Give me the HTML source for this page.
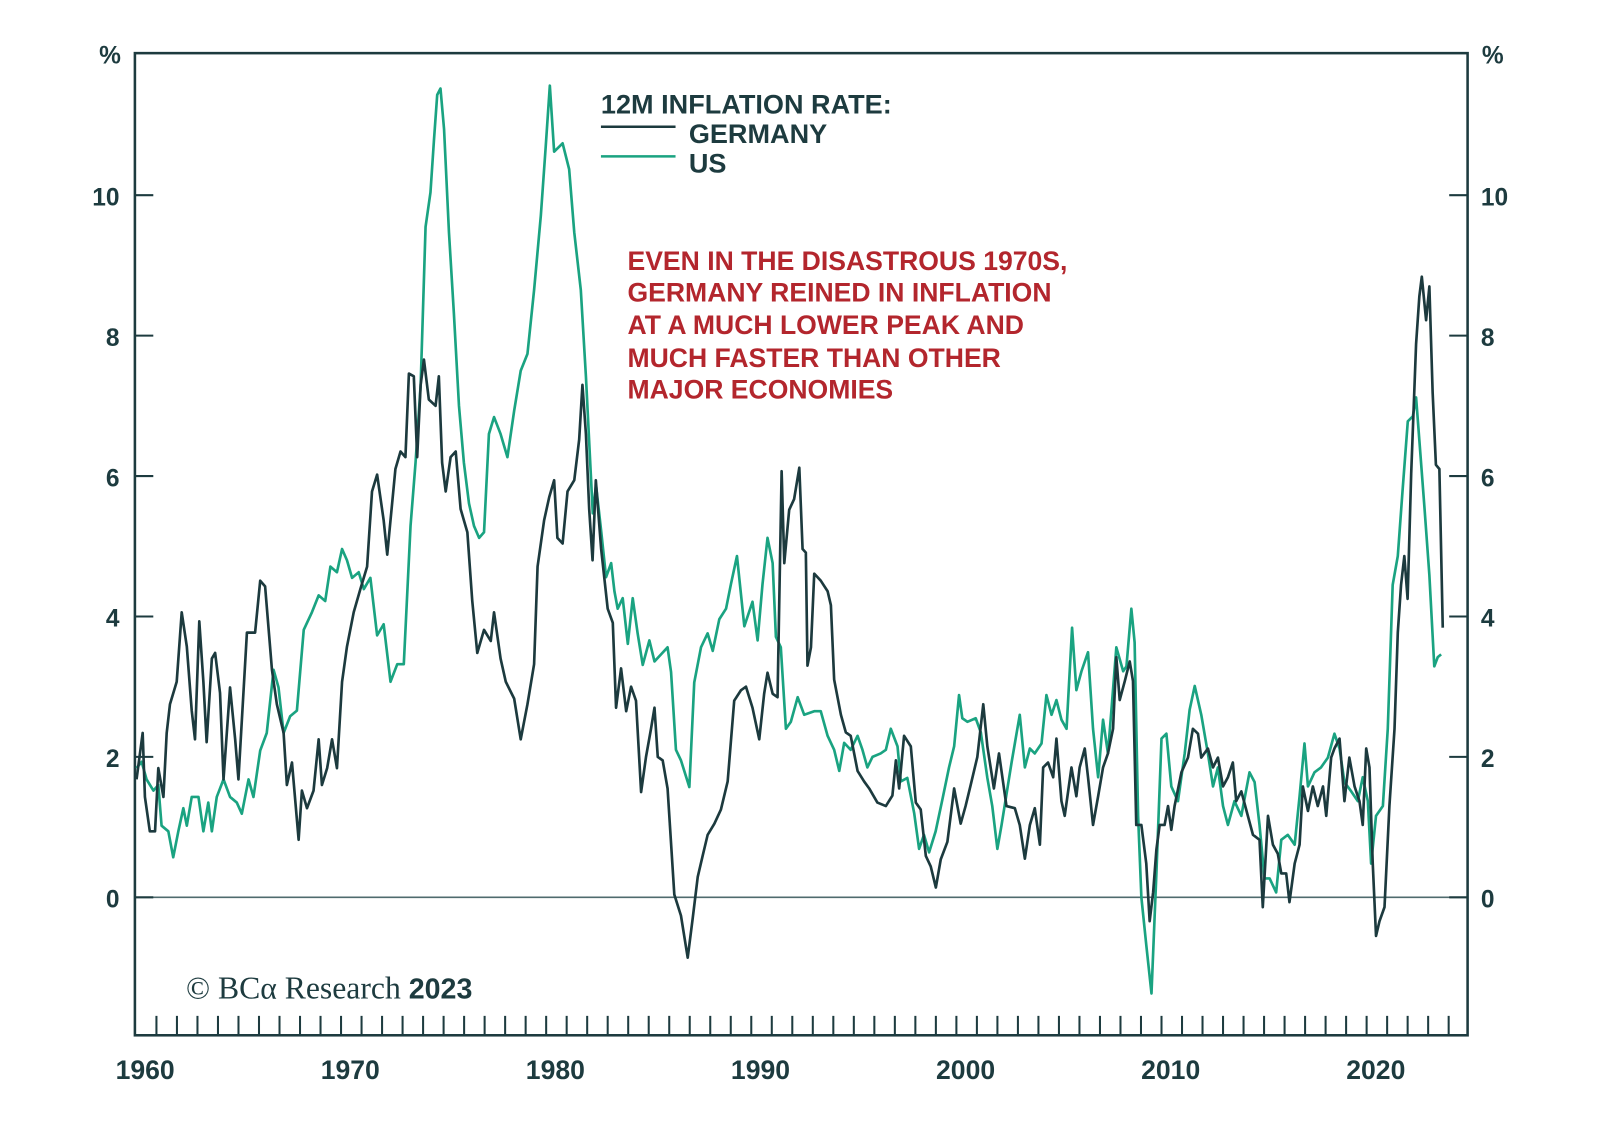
<!DOCTYPE html>
<html><head><meta charset="utf-8"><style>
html,body{margin:0;padding:0;background:#fff;}
svg{display:block;}
.tk{font-family:"Liberation Sans",sans-serif;font-weight:bold;font-size:24px;fill:#1d3b3f;}
.yr{font-size:26px;}
</style></head><body>
<svg id="chart" width="1600" height="1140" viewBox="0 0 1600 1140" xmlns="http://www.w3.org/2000/svg">
<rect x="0" y="0" width="1600" height="1140" fill="#fff"/>
<g transform="scale(1.022)">
<g id="axes"></g>
<g id="series"></g>
<g>
<text x="588" y="111" class="tk" style="font-size:26.5px">12M INFLATION RATE:</text>
<line x1="588" y1="124" x2="661" y2="124" stroke="#1c3a3e" stroke-width="2.5"/>
<text x="674" y="140" class="tk" style="font-size:26.5px">GERMANY</text>
<line x1="588" y1="153" x2="661" y2="153" stroke="#1aa381" stroke-width="2.5"/>
<text x="674" y="169" class="tk" style="font-size:26.5px">US</text>
</g>
<g font-family="Liberation Sans, sans-serif" font-weight="bold" font-size="26" fill="#b3262d">
<text x="614" y="264">EVEN IN THE DISASTROUS 1970S,</text>
<text x="614" y="295">GERMANY REINED IN INFLATION</text>
<text x="614" y="327">AT A MUCH LOWER PEAK AND</text>
<text x="614" y="359">MUCH FASTER THAN OTHER</text>
<text x="614" y="390">MAJOR ECONOMIES</text>
</g>
<text x="182" y="977" font-family="Liberation Serif, serif" font-size="31" fill="#1d3b3f">© BCα Research <tspan font-family="Liberation Sans, sans-serif" font-weight="bold" font-size="28">2023</tspan></text>
</g>
</svg>
<script>
const gerYears=[1960.03,1960.33,1960.44,1960.68,1960.93,1961.09,1961.34,1961.5,1961.66,1961.99,1962.23,1962.48,1962.72,1962.88,1963.09,1963.29,1963.45,1963.7,1963.86,1964.1,1964.27,1964.59,1964.84,1965.0,1965.41,1965.81,1966.06,1966.3,1966.63,1966.87,1967.2,1967.36,1967.61,1967.93,1968.09,1968.34,1968.66,1968.91,1969.07,1969.32,1969.56,1969.8,1970.05,1970.29,1970.62,1970.94,1971.27,1971.51,1971.76,1972.08,1972.25,1972.41,1972.65,1972.9,1973.14,1973.31,1973.55,1973.71,1973.88,1974.04,1974.28,1974.61,1974.77,1974.93,1975.1,1975.34,1975.59,1975.83,1976.16,1976.4,1976.64,1976.97,1977.3,1977.46,1977.78,1978.03,1978.44,1978.76,1979.09,1979.41,1979.58,1979.9,1980.15,1980.39,1980.55,1980.8,1981.04,1981.37,1981.61,1981.77,1981.94,1982.1,1982.26,1982.42,
1982.68,1983.0,1983.25,1983.41,1983.65,1983.9,1984.14,1984.38,1984.63,1984.87,1985.11,1985.28,1985.44,1985.68,1985.92,1986.25,1986.57,1986.9,1987.14,1987.39,1987.63,1987.87,1988.2,1988.52,1988.85,1989.17,1989.5,1989.74,1990.06,1990.39,1990.63,1990.79,1991.04,1991.28,1991.48,1991.61,1991.85,1992.09,1992.34,1992.5,1992.66,1992.74,1992.91,1993.07,1993.39,1993.72,1993.88,1994.04,1994.37,1994.61,1994.85,1995.18,1995.5,1995.75,1996.15,1996.56,1996.88,1997.05,1997.21,1997.45,1997.78,1998.02,1998.26,1998.51,1998.75,1999.0,1999.24,1999.56,1999.89,2000.21,2000.45,2000.7,2001.02,2001.31,2001.51,2001.83,2002.08,
2002.44,2002.85,2003.09,2003.34,2003.58,2003.82,2004.07,2004.23,2004.47,2004.72,2004.88,2005.12,2005.28,2005.61,2005.85,2006.01,2006.26,2006.42,2006.66,2006.91,2007.15,2007.39,2007.64,2007.8,2007.96,2008.21,2008.45,2008.61,2008.77,2009.02,2009.26,2009.42,2009.59,2009.75,2009.91,2010.15,2010.32,2010.48,2010.64,2010.97,2011.29,2011.53,2011.78,2011.94,2012.26,2012.51,2012.75,2013.0,2013.24,2013.48,2013.64,2013.89,2014.21,2014.46,2014.78,2014.94,2015.19,2015.43,2015.67,2015.84,2016.08,2016.24,2016.49,2016.73,2016.89,2017.14,2017.38,2017.62,2017.87,2018.03,2018.27,2018.43,2018.68,2018.92,2019.16,2019.41,2019.65,2019.81,2019.98,2020.14,2020.3,2020.46,2020.63,2020.87,2021.11,2021.36,2021.52,2021.68,2021.84,2022.0,2022.17,2022.41,2022.57,2022.69,2022.9,2023.06,2023.22,2023.38,2023.55,2023.71];
const gerVals=[1.68,2.34,1.43,0.94,0.94,1.84,1.43,2.34,2.75,3.07,4.06,3.57,2.66,2.25,3.93,3.07,2.21,3.4,3.48,2.91,1.68,2.99,2.25,1.68,3.77,3.77,4.51,4.43,3.24,2.75,2.34,1.6,1.92,0.82,1.52,1.27,1.52,2.25,1.6,1.84,2.25,1.84,3.07,3.57,4.06,4.39,4.71,5.78,6.02,5.37,4.88,5.37,6.1,6.35,6.27,7.46,7.42,6.27,7.3,7.66,7.09,7.0,7.42,6.19,5.78,6.27,6.35,5.53,5.2,4.22,3.48,3.81,3.65,4.06,3.4,3.07,2.83,2.25,2.75,3.32,4.71,5.37,5.7,5.94,5.12,5.04,5.78,5.94,6.52,7.3,6.6,5.53,4.8,5.94,
4.96,4.11,3.91,2.7,3.26,2.65,3.0,2.8,1.5,2.0,2.4,2.7,2.0,1.95,1.55,0.04,-0.26,-0.86,-0.31,0.29,0.59,0.89,1.05,1.25,1.65,2.8,2.95,3.0,2.7,2.25,2.9,3.2,2.9,2.85,6.07,4.76,5.52,5.67,6.12,4.96,4.91,3.3,3.56,4.61,4.51,4.36,4.16,3.1,2.6,2.35,2.3,1.8,1.65,1.55,1.35,1.3,1.45,1.95,1.55,2.3,2.15,1.35,1.25,0.59,0.44,0.14,0.54,0.79,1.55,1.05,1.3,1.6,2.0,2.75,2.15,1.55,2.05,
1.3,1.27,1.03,0.55,1.03,1.27,0.75,1.85,1.92,1.71,2.26,1.37,1.16,1.85,1.44,1.85,2.12,1.71,1.03,1.44,1.85,2.05,2.4,3.42,2.81,3.08,3.36,3.08,1.03,1.03,0.48,-0.34,0.07,0.68,1.03,1.03,1.3,0.96,1.3,1.78,1.99,2.4,2.33,1.99,2.12,1.85,1.99,1.58,1.71,1.92,1.37,1.51,1.16,0.89,0.82,-0.14,1.16,0.75,0.62,0.34,0.34,-0.07,0.48,0.75,1.58,1.23,1.58,1.3,1.58,1.16,1.99,2.12,2.26,1.37,1.99,1.58,1.37,1.03,2.12,1.85,0.48,-0.55,-0.34,-0.14,1.3,2.4,3.77,4.45,4.86,4.25,6.03,7.88,8.56,8.84,8.22,8.7,7.19,6.16,6.1,3.84];
const usYears=[1960.03,1960.28,1960.52,1960.85,1961.09,1961.25,1961.58,1961.82,1962.07,1962.31,1962.48,1962.72,1963.05,1963.29,1963.53,1963.7,1963.94,1964.27,1964.59,1964.92,1965.16,1965.49,1965.73,1966.06,1966.38,1966.71,1966.95,1967.2,1967.52,1967.85,1968.18,1968.58,1968.91,1969.23,1969.48,1969.8,1970.05,1970.29,1970.54,1970.86,1971.11,1971.43,1971.76,1972.08,1972.41,1972.74,1973.06,1973.39,1973.63,1973.88,1974.12,1974.36,1974.53,1974.69,1974.85,1975.02,1975.26,1975.5,1975.75,1975.99,1976.24,1976.48,1976.73,1976.97,1977.21,1977.46,1977.78,1978.11,1978.44,1978.76,1979.09,1979.41,1979.74,1979.98,1980.18,1980.39,1980.8,1981.12,1981.37,1981.69,1981.94,
1982.27,1982.43,1982.68,1982.92,1983.17,1983.33,1983.49,1983.73,1983.98,1984.22,1984.46,1984.71,1985.03,1985.28,1985.6,1985.92,1986.09,1986.33,1986.57,1986.98,1987.22,1987.55,1987.87,1988.12,1988.44,1988.77,1989.01,1989.3,1989.66,1990.06,1990.31,1990.55,1990.79,1991.04,1991.2,1991.44,1991.69,1991.93,1992.26,1992.58,1993.07,1993.39,1993.72,1994.04,1994.29,1994.53,1994.85,1995.18,1995.42,1995.66,1995.91,1996.31,1996.56,1996.8,1997.13,1997.29,1997.61,1997.94,1998.18,1998.42,1998.67,1998.99,1999.32,1999.64,1999.89,2000.13,2000.29,2000.54,2000.94,2001.19,2001.51,2001.75,2002.0,
2002.2,2002.69,2003.09,2003.34,2003.58,2003.82,2004.15,2004.39,2004.64,2004.88,2005.12,2005.37,2005.64,2005.85,2006.1,2006.42,2006.66,2006.91,2007.15,2007.39,2007.56,2007.8,2008.13,2008.29,2008.53,2008.69,2008.86,2009.02,2009.26,2009.51,2009.75,2010.0,2010.24,2010.48,2010.8,2011.13,2011.37,2011.62,2011.94,2012.26,2012.51,2012.75,2013.0,2013.24,2013.56,2013.89,2014.29,2014.54,2014.78,2015.02,2015.27,2015.59,2015.84,2016.16,2016.49,2016.73,2016.97,2017.14,2017.46,2017.78,2018.11,2018.43,2018.68,2018.92,2019.25,2019.57,2019.81,2020.06,2020.22,2020.46,2020.79,2021.03,2021.27,2021.52,2021.76,2022.01,2022.25,2022.41,2022.57,2022.82,2023.06,2023.3,2023.47,2023.63];
const usVals=[1.84,1.93,1.68,1.52,1.6,1.02,0.94,0.57,0.94,1.27,1.02,1.43,1.43,0.94,1.35,0.94,1.43,1.68,1.43,1.35,1.19,1.68,1.43,2.09,2.34,3.24,2.99,2.34,2.58,2.66,3.81,4.06,4.3,4.22,4.71,4.63,4.96,4.8,4.55,4.63,4.39,4.55,3.73,3.89,3.07,3.32,3.32,5.29,6.19,7.3,9.55,10.04,10.78,11.43,11.52,10.94,9.47,8.32,7.0,6.19,5.61,5.29,5.12,5.2,6.6,6.84,6.6,6.27,6.93,7.5,7.74,8.65,9.71,10.7,11.56,10.62,10.74,10.37,9.47,8.65,7.42,
5.47,5.87,5.22,4.56,4.76,4.36,4.11,4.26,3.61,4.26,3.76,3.31,3.66,3.36,3.46,3.56,3.21,2.1,1.95,1.57,3.06,3.56,3.76,3.51,3.96,4.11,4.46,4.86,3.86,4.21,3.66,4.46,5.12,4.76,3.71,3.56,2.4,2.5,2.85,2.6,2.65,2.65,2.3,2.1,1.8,2.2,2.1,2.3,2.1,1.85,2.0,2.05,2.1,2.4,2.15,1.65,1.7,1.2,0.69,0.89,0.64,0.94,1.4,1.85,2.15,2.88,2.55,2.5,2.55,2.35,1.7,1.3,0.69,
1.03,1.92,2.6,1.85,2.12,2.05,2.19,2.88,2.6,2.81,2.53,2.4,3.84,2.95,3.22,3.49,2.4,1.71,2.53,2.05,2.67,3.56,3.22,3.29,4.11,3.63,1.16,0.0,-0.68,-1.37,0.34,2.26,2.33,1.58,1.37,2.05,2.67,3.01,2.6,2.05,1.58,1.85,1.3,1.03,1.37,1.16,1.78,1.64,1.03,0.27,0.27,0.07,0.82,0.89,0.75,1.44,2.19,1.58,1.78,1.85,1.99,2.33,2.12,1.64,1.51,1.37,1.71,1.37,0.48,1.16,1.3,2.4,4.45,4.86,5.82,6.78,6.85,7.12,6.51,5.55,4.59,3.29,3.42,3.46];
const yTicks=[0,2,4,6,8,10];
const xLabels=[1960,1970,1980,1990,2000,2010,2020];

const NS="http://www.w3.org/2000/svg";
const L=132,R=1436,T=52,B=1013;
function xs(yr){return 133+(yr-1960)*20.07;}
function ys(v){return 878-v*68.7;}
function mk(tag,attrs,parent){const e=document.createElementNS(NS,tag);for(const k in attrs)e.setAttribute(k,attrs[k]);parent.appendChild(e);return e;}
const ax=document.getElementById('axes');
const C="#1d3b3f";
let e;
e=mk('line',{x1:L,y1:ys(0),x2:R,y2:ys(0),stroke:"#4f6b6e","stroke-width":1.5},ax);


e=mk('rect',{x:L,y:T,width:R-L,height:B-T,fill:"none",stroke:C,"stroke-width":2.5},ax);


yTicks.forEach(v=>{
  const y=ys(v);
  let t=mk('line',{x1:L,y1:y,x2:L+18,y2:y,stroke:C,"stroke-width":2},ax);
  
  
  t=mk('line',{x1:R-18,y1:y,x2:R,y2:y,stroke:C,"stroke-width":2},ax);
  
  
  let tx=mk('text',{x:117,y:y+10,"text-anchor":"end","class":"tk"},ax);tx.textContent=v;
  
  
  tx=mk('text',{x:1449,y:y+10,"class":"tk"},ax);tx.textContent=v;
  
  
});
let p=mk('text',{x:97,y:62,"class":"tk"},ax);p.textContent='%';


p=mk('text',{x:1450,y:62,"class":"tk"},ax);p.textContent='%';


for(let yr=1961;yr<=2024;yr++){
  const x=xs(yr);if(x>R-2)break;
  const t=mk('line',{x1:x,y1:B,x2:x,y2:B-19,stroke:C,"stroke-width":2},ax);
  
  
}
xLabels.forEach(yr=>{
  const t=mk('text',{x:xs(yr)+9,y:1056,"text-anchor":"middle","class":"tk yr"},ax);t.textContent=yr;
  
  
});
const sg=document.getElementById('series');
function path(yrs,vals){return yrs.map((yr,i)=>(i?'L':'M')+xs(yr).toFixed(1)+' '+ys(vals[i]).toFixed(1)).join(' ');}
const us=mk('path',{d:path(usYears,usVals),fill:"none",stroke:"#1aa381","stroke-width":2.6,"stroke-linejoin":"round"},sg);


const ge=mk('path',{d:path(gerYears,gerVals),fill:"none",stroke:"#1c3a3e","stroke-width":2.6,"stroke-linejoin":"round"},sg);


</script>
</body></html>
